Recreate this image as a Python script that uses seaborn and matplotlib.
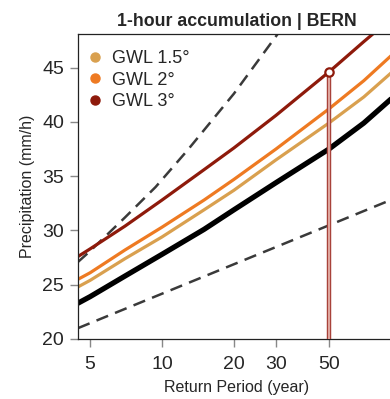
import numpy as np
import pandas as pd
import matplotlib
matplotlib.use("Agg")
import matplotlib.pyplot as plt
from matplotlib.lines import Line2D
import seaborn as sns

# Return periods (years) and return levels (mm/h)
periods = [4.45, 5, 7, 10, 15, 20, 30, 50, 70, 95.3]
obs = [23.3, 23.9, 25.8, 27.8, 30.1, 31.9, 34.4, 37.5, 39.9, 42.5]
gwl15 = [24.8, 25.4, 27.4, 29.4, 31.9, 33.7, 36.5, 39.9, 42.3, 44.9]
gwl2 = [25.5, 26.1, 28.2, 30.3, 32.8, 34.7, 37.5, 41.2, 43.8, 46.5]
gwl3 = [27.6, 28.3, 30.4, 32.8, 35.6, 37.6, 40.6, 44.6, 47.4, 49.9]

# upper / lower confidence band of the reference curve
upper_T = [4.45, 5, 7, 9.4, 12.8, 20, 30.5, 35]
upper = [27.1, 28.1, 31.2, 34.0, 37.4, 42.6, 48.1, 49.9]
lower_T = [4.45, 95.3]
lower = [21.0, 33.0]

marked_T = 50
marked_val = 44.6

xticks = [5, 10, 20, 30, 50]
yticks = [20, 25, 30, 35, 40, 45]

colors = {"GWL 1.5°": "#D9A04F", "GWL 2°": "#EE7A22", "GWL 3°": "#8E1A0B"}

sns.set_theme(style="white")
plt.rcParams["font.family"] = ["Liberation Sans", "DejaVu Sans"]

fig = plt.figure(figsize=(3.9, 3.99), dpi=100)
ax = fig.add_axes([0.2, 0.1504, 0.815, 0.7644])

# dashed confidence bounds
dash = (0, (5, 3))
sns.lineplot(x=upper_T, y=upper, ax=ax, color="#3a3a3a", lw=1.8, linestyle=dash)
sns.lineplot(x=lower_T, y=lower, ax=ax, color="#3a3a3a", lw=1.8, linestyle=dash)

# reference (black) and warming levels
sns.lineplot(x=periods, y=obs, ax=ax, color="black", lw=3.8)
sns.lineplot(x=periods, y=gwl15, ax=ax, color=colors["GWL 1.5°"], lw=2.3)
sns.lineplot(x=periods, y=gwl2, ax=ax, color=colors["GWL 2°"], lw=2.3)
sns.lineplot(x=periods, y=gwl3, ax=ax, color=colors["GWL 3°"], lw=2.3)

# highlighted 50-year level
ax.plot([marked_T, marked_T], [20, marked_val], color="#A8423A", lw=3.2, solid_capstyle="butt", zorder=5)
ax.plot([marked_T, marked_T], [20, marked_val], color="#E0A8A0", lw=1.4, solid_capstyle="butt", zorder=6)
ax.plot([marked_T], [marked_val], marker="o", ms=6, mfc="white", mec=colors["GWL 3°"], mew=1.6, zorder=7)

ax.set_xscale("log")
ax.set_xlim(4.45, 95.3)
ax.set_ylim(20, 48.1)
ax.set_xticks(xticks)
ax.set_xticklabels([str(t) for t in xticks])
ax.xaxis.set_minor_locator(matplotlib.ticker.NullLocator())
ax.set_yticks(yticks)
ax.set_yticklabels([str(t) for t in yticks])
ax.tick_params(axis="both", which="major", direction="out", length=6, width=1,
               color="#888888", labelsize=14, pad=4, bottom=True, left=True)
ax.tick_params(axis="x", pad=6)

for side in ["left", "bottom", "top", "right"]:
    ax.spines[side].set_color("#222222")
    ax.spines[side].set_linewidth(0.9)

ax.set_xlabel("Return Period (year)", fontsize=11.5, labelpad=5)
ax.set_ylabel("Precipitation (mm/h)", fontsize=11.5, labelpad=5)
ax.set_title("1-hour accumulation | BERN", fontsize=12.8, fontweight="bold", pad=6)

handles = [Line2D([], [], marker="o", ls="", color=c, ms=6.5) for c in colors.values()]
ax.legend(handles, list(colors.keys()), loc="upper left", bbox_to_anchor=(-0.013, 1.0),
          frameon=False, fontsize=13, handletextpad=0.7, labelspacing=0.25,
          borderaxespad=0.3, borderpad=0.6, handlelength=0.5)

fig.savefig("out.png", dpi=100)
